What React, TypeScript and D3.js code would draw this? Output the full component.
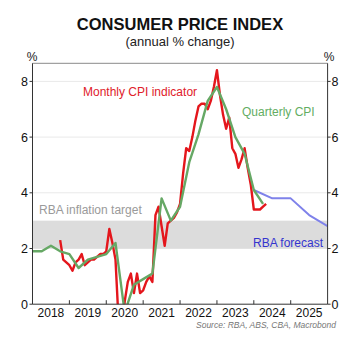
import * as d3 from 'd3';

const W = 360;
const H = 351;

// Monthly CPI indicator, annual % change, from Sep 2018 (month-end)
const monthlyStart = '2018-09';
const monthlyValues = [
  // 2018 Sep-Dec
  2.3, 1.6, 1.5, 1.4,
  // 2019
  1.2, 1.5, 1.6, 1.8, 1.4, 1.5, 1.6, 1.6, 1.7, 1.8, 1.8, 1.9,
  // 2020
  2.7, 2.2, 1.6, -0.6, -1.0, 0.1, 0.8, 1.1, 0.4, 1.1, 0.4, 0.5,
  // 2021
  0.8, 1.0, 0.8, 3.2, 3.5, 2.8, 2.1, 2.9, 3.0, 3.1, 3.3, 3.6,
  // 2022
  4.7, 5.6, 5.5, 6.0, 6.6, 7.1, 7.2, 7.2, 7.0, 7.3, 7.8, 8.4,
  // 2023
  7.5, 6.8, 6.3, 6.7, 5.6, 5.4, 4.9, 5.2, 5.6, 4.9, 4.3, 3.4,
  // 2024 Jan-Apr
  3.4, 3.4, 3.5, 3.6,
];

// Quarterly CPI, annual % change (quarter end)
const quarterlyDates = [
  '2017-12',
  '2018-03', '2018-06', '2018-09', '2018-12',
  '2019-03', '2019-06', '2019-09', '2019-12',
  '2020-03', '2020-06', '2020-09', '2020-12',
  '2021-03', '2021-06', '2021-09', '2021-12',
  '2022-03', '2022-06', '2022-09', '2022-12',
  '2023-03', '2023-06', '2023-09', '2023-12',
  '2024-03',
];
const quarterlyValues = [
  1.9,
  1.9, 2.1, 1.9, 1.8,
  1.3, 1.6, 1.7, 1.8,
  2.2, -0.3, 0.7, 0.9,
  1.1, 3.8, 3.0, 3.5,
  5.1, 6.1, 7.3, 7.8,
  7.0, 6.0, 5.4, 4.1,
  3.6,
];

// RBA forecast
const forecastDates = ['2023-12', '2024-06', '2024-12', '2025-06', '2025-12'];
const forecastValues = [4.1, 3.8, 3.8, 3.2, 2.8];

const yearLabels = ['2018', '2019', '2020', '2021', '2022', '2023', '2024', '2025'];
const yTicks = [0, 2, 4, 6, 8];
const targetBand = [2, 3];

// 'YYYY-MM' -> decimal year at month end
const toYear = (s: string) => {
  const [y, m] = s.split('-').map(Number);
  return y + m / 12;
};

const monthlyDates = monthlyValues.map((_, i) => {
  const [y, m] = monthlyStart.split('-').map(Number);
  const t = (m - 1) + i;
  return `${y + Math.floor(t / 12)}-${String((t % 12) + 1).padStart(2, '0')}`;
});

const FONT = '"Liberation Sans", Arial, sans-serif';

export default function App() {
  const left = 32.5;
  const right = 327.6;
  const top = 63.3;
  const bottom = 304.2;

  const x = d3.scaleLinear().domain([2018, 2026]).range([left, right]);
  const y = d3.scaleLinear().domain([0, 8.65]).range([bottom, top]);

  const line = d3
    .line<[string, number]>()
    .x((d) => x(toYear(d[0])))
    .y((d) => y(d[1]));

  const monthly = d3.zip(monthlyDates, monthlyValues) as [string, number][];
  const quarterly = d3.zip(quarterlyDates, quarterlyValues) as [string, number][];
  const forecast = d3.zip(forecastDates, forecastValues) as [string, number][];

  return (
    <svg
      width={W}
      height={H}
      style={{ position: 'fixed', left: 0, top: 0, background: '#fff' }}
      fontFamily={FONT}
    >
      <defs>
        <clipPath id="plot">
          <rect x={left} y={top} width={right - left} height={bottom - top} />
        </clipPath>
      </defs>

      <text x={180} y={29.5} textAnchor="middle" fontSize={16.5} fontWeight="bold" fill="#111">
        CONSUMER PRICE INDEX
      </text>
      <text x={180} y={46} textAnchor="middle" fontSize={13} fill="#222">
        (annual % change)
      </text>
      <text x={32} y={61} textAnchor="middle" fontSize={12} fill="#222">%</text>
      <text x={329} y={61} textAnchor="middle" fontSize={12} fill="#222">%</text>

      {/* gridlines */}
      {yTicks.slice(1).map((t) => (
        <line key={t} x1={left} x2={right} y1={y(t)} y2={y(t)} stroke="#e9e9e9" strokeWidth={1} />
      ))}

      {/* inflation target band */}
      <rect
        x={left}
        y={y(targetBand[1])}
        width={right - left}
        height={y(targetBand[0]) - y(targetBand[1])}
        fill="#dcdcdc"
      />

      <g clipPath="url(#plot)" fill="none" strokeLinejoin="round">
        <path d={line(forecast) || ''} stroke="#7f82ea" strokeWidth={2} />
        <path d={line(monthly) || ''} stroke="#e4161c" strokeWidth={2.4} />
        <path d={line(quarterly) || ''} stroke="#66a865" strokeWidth={2.4} />
      </g>

      {/* frame */}
      <line x1={left} x2={right} y1={top} y2={top} stroke="#8a8a8a" strokeWidth={1} />
      <line x1={left} x2={left} y1={top} y2={bottom} stroke="#333" strokeWidth={1} />
      <line x1={right} x2={right} y1={top} y2={bottom} stroke="#333" strokeWidth={1} />
      <line x1={left} x2={right} y1={bottom} y2={bottom} stroke="#333" strokeWidth={1} />

      {/* y ticks and labels */}
      {yTicks.map((t) => (
        <g key={t}>
          <line x1={left - 3} x2={left} y1={y(t)} y2={y(t)} stroke="#333" />
          <line x1={right} x2={right + 3} y1={y(t)} y2={y(t)} stroke="#333" />
          <text x={left - 4.5} y={y(t)} dy="0.36em" textAnchor="end" fontSize={12.5} fill="#111">
            {t}
          </text>
          <text x={right + 4} y={y(t)} dy="0.36em" textAnchor="start" fontSize={12.5} fill="#111">
            {t}
          </text>
        </g>
      ))}

      {/* x ticks and labels */}
      {yearLabels.map((yr, i) => {
        const v = +yr;
        return (
          <g key={yr}>
            {i > 0 && <line x1={x(v)} x2={x(v)} y1={bottom} y2={bottom - 4} stroke="#333" />}
            <text x={x(v + 0.5)} y={316.5} textAnchor="middle" fontSize={12} fill="#111">
              {yr}
            </text>
          </g>
        );
      })}

      {/* series labels */}
      <text x={83} y={96} fontSize={12} fill="#e0202a">Monthly CPI indicator</text>
      <text x={242} y={116} fontSize={12} fill="#63ad62">Quarterly CPI</text>
      <text x={39} y={214} fontSize={12} fill="#9a9a9a">RBA inflation target</text>
      <text x={323} y={247} textAnchor="end" fontSize={12} fill="#3434cf">RBA forecast</text>

      <text x={336} y={328} textAnchor="end" fontSize={8.5} fontStyle="italic" fill="#777">
        Source: RBA, ABS, CBA, Macrobond
      </text>
    </svg>
  );
}
